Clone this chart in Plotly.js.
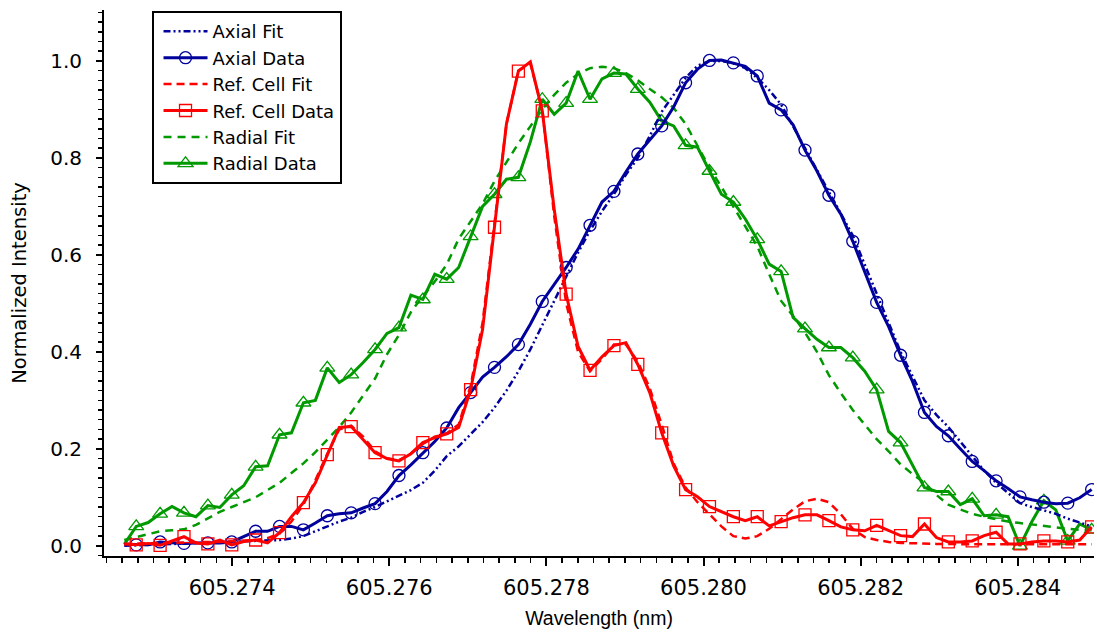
<!DOCTYPE html>
<html><head><meta charset="utf-8">
<script src="https://cdn.plot.ly/plotly-3.0.1.min.js"></script>
<style>html,body{margin:0;padding:0;background:#fff;}#chart{width:1097px;height:636px;}</style>
</head><body><div id="chart"></div>
<script>
const wavelength = [605.272628,605.272780,605.272932,605.273084,605.273236,605.273388,605.273540,605.273692,605.273844,605.273996,
605.274148,605.274300,605.274452,605.274604,605.274756,605.274908,605.275060,605.275212,605.275364,605.275516,
605.275668,605.275820,605.275972,605.276124,605.276276,605.276428,605.276580,605.276732,605.276884,605.277036,
605.277188,605.277340,605.277492,605.277644,605.277796,605.277948,605.278100,605.278252,605.278404,605.278556,
605.278708,605.278860,605.279012,605.279164,605.279316,605.279468,605.279620,605.279772,605.279924,605.280076,
605.280228,605.280380,605.280532,605.280684,605.280836,605.280988,605.281140,605.281292,605.281444,605.281596,
605.281748,605.281900,605.282052,605.282204,605.282356,605.282508,605.282660,605.282812,605.282964,605.283116,
605.283268,605.283420,605.283572,605.283724,605.283876,605.284028,605.284180,605.284332,605.284484,605.284636,
605.284788,605.284940];

const axialData = [0.003,0.002,0.002,0.008,0.006,0.005,0.006,0.006,0.006,0.008,
0.019,0.030,0.030,0.040,0.040,0.033,0.047,0.062,0.066,0.068,
0.078,0.087,0.112,0.145,0.167,0.192,0.215,0.243,0.285,0.316,
0.348,0.368,0.390,0.415,0.457,0.504,0.539,0.574,0.612,0.661,
0.709,0.731,0.771,0.808,0.837,0.866,0.905,0.955,0.983,1.001,
1.002,0.996,0.989,0.969,0.913,0.899,0.868,0.816,0.773,0.723,
0.684,0.628,0.564,0.502,0.452,0.393,0.339,0.275,0.246,0.227,
0.200,0.174,0.155,0.134,0.118,0.101,0.095,0.090,0.087,0.088,
0.099,0.116];

const axialFit = [0.000,0.001,0.002,0.002,0.003,0.004,0.005,0.006,0.007,0.008,
0.009,0.010,0.011,0.012,0.015,0.020,0.030,0.040,0.050,0.058,
0.070,0.080,0.092,0.103,0.115,0.130,0.155,0.185,0.205,0.230,
0.255,0.285,0.320,0.360,0.405,0.455,0.505,0.555,0.605,0.650,
0.690,0.725,0.765,0.800,0.845,0.895,0.930,0.965,0.990,1.000,
1.000,0.995,0.985,0.965,0.940,0.910,0.865,0.820,0.775,0.730,
0.685,0.640,0.580,0.520,0.460,0.400,0.350,0.300,0.270,0.245,
0.215,0.185,0.155,0.130,0.108,0.088,0.080,0.073,0.066,0.056,
0.048,0.040];

const refData = [0.004,0.002,0.005,0.001,0.010,0.019,0.006,0.004,0.012,0.002,
0.009,0.012,0.006,0.027,0.060,0.089,0.130,0.188,0.244,0.246,
0.219,0.192,0.180,0.175,0.190,0.213,0.223,0.231,0.244,0.322,
0.446,0.657,0.870,0.979,0.998,0.897,0.694,0.519,0.411,0.362,
0.390,0.413,0.419,0.374,0.316,0.233,0.165,0.116,0.101,0.081,
0.070,0.060,0.052,0.060,0.041,0.050,0.058,0.064,0.064,0.052,
0.039,0.033,0.031,0.042,0.031,0.021,0.019,0.045,0.017,0.008,
0.008,0.010,0.021,0.028,0.004,0.004,0.008,0.010,0.010,0.008,
0.012,0.039];

const refFit = [0.004,0.005,0.005,0.006,0.006,0.007,0.007,0.008,0.008,0.009,
0.010,0.012,0.016,0.025,0.050,0.085,0.135,0.190,0.240,0.248,
0.225,0.195,0.180,0.177,0.190,0.210,0.225,0.232,0.250,0.330,
0.460,0.660,0.870,0.980,0.995,0.900,0.680,0.500,0.400,0.360,
0.385,0.415,0.415,0.380,0.325,0.250,0.170,0.120,0.090,0.065,
0.040,0.020,0.015,0.020,0.035,0.055,0.075,0.092,0.097,0.090,
0.065,0.035,0.018,0.012,0.008,0.006,0.005,0.004,0.004,0.004,
0.003,0.003,0.003,0.003,0.003,0.003,0.003,0.003,0.003,0.003,
0.003,0.003];

const radialData = [0.003,0.040,0.048,0.066,0.081,0.068,0.060,0.083,0.079,0.105,
0.124,0.163,0.165,0.229,0.233,0.295,0.300,0.367,0.337,0.353,
0.378,0.405,0.438,0.450,0.517,0.508,0.560,0.550,0.574,0.638,
0.700,0.725,0.756,0.760,0.833,0.921,0.890,0.913,0.979,0.921,
0.963,0.975,0.973,0.942,0.915,0.876,0.866,0.826,0.822,0.773,
0.725,0.709,0.674,0.632,0.581,0.566,0.471,0.448,0.426,0.409,
0.409,0.388,0.360,0.322,0.236,0.213,0.167,0.120,0.112,0.112,
0.085,0.097,0.062,0.064,0.060,0.000,0.050,0.093,0.074,0.010,
0.045,0.033];

const radialFit = [0.012,0.018,0.025,0.030,0.032,0.034,0.043,0.056,0.070,0.080,
0.090,0.100,0.115,0.130,0.150,0.170,0.193,0.220,0.245,0.275,
0.310,0.345,0.395,0.435,0.482,0.515,0.545,0.580,0.633,0.670,
0.705,0.752,0.790,0.830,0.865,0.900,0.930,0.955,0.973,0.985,
0.988,0.985,0.975,0.960,0.942,0.925,0.903,0.870,0.825,0.780,
0.740,0.700,0.658,0.618,0.560,0.505,0.474,0.440,0.400,0.352,
0.315,0.280,0.250,0.220,0.195,0.168,0.148,0.130,0.105,0.085,
0.075,0.066,0.060,0.055,0.050,0.047,0.044,0.040,0.037,0.035,
0.033,0.032];

const legendNames = ['Axial Fit','Axial Data','Ref. Cell Fit','Ref. Cell Data','Radial Fit','Radial Data'];

const BLUE = '#00009c', RED = '#ff0000', GREEN = '#009900';
const markerIdx = wavelength.map((_, i) => i).filter(i => i % 2 === 1);
const pick = arr => markerIdx.map(i => arr[i]);

function dataSet(name, yv, color, symbol, size, rank) {
  return [
    {x: wavelength, y: yv, mode: 'lines', line: {color: color, width: 3}, showlegend: false, name: name},
    {x: pick(wavelength), y: pick(yv), mode: 'markers', showlegend: false, name: name,
     marker: {symbol: symbol, size: size, color: color, line: {width: 1.3, color: color}}},
    {x: [null], y: [null], mode: 'lines+markers', name: name, legendrank: rank,
     line: {color: color, width: 3},
     marker: {symbol: symbol, size: size, color: color, line: {width: 1.3, color: color}}}
  ];
}

const traces = [
  {x: wavelength, y: radialFit, mode: 'lines', name: legendNames[4], legendrank: 5,
   line: {color: GREEN, width: 2.5, dash: '8px,6px'}},
  ...dataSet(legendNames[5], radialData, GREEN, 'triangle-up-open', 13, 6),
  {x: wavelength, y: axialFit, mode: 'lines', name: legendNames[0], legendrank: 1,
   line: {color: BLUE, width: 2.5, dash: '7px,3px,2px,3px,2px,3px'}},
  ...dataSet(legendNames[1], axialData, BLUE, 'circle-open', 12, 2),
  {x: wavelength, y: refFit, mode: 'lines', name: legendNames[2], legendrank: 3,
   line: {color: RED, width: 2.5, dash: '8px,5px'}},
  ...dataSet(legendNames[3], refData, RED, 'square-open', 12, 4)
];

const XR = [605.27237, 605.28497];
const YR = [-0.021, 1.105];
const tickFontX = {family: 'DejaVu Sans, sans-serif', size: 21, color: '#000'};
const tickFontY = {family: 'DejaVu Sans, sans-serif', size: 20, color: '#000'};

const layout = {
  width: 1097, height: 636,
  margin: {l: 104, r: 3, t: 10, b: 80},
  paper_bgcolor: '#fff', plot_bgcolor: '#fff',
  showlegend: true,
  hovermode: false,
  font: {family: 'DejaVu Sans, sans-serif', color: '#000'},
  xaxis: {
    range: XR, tick0: 605.274, dtick: 0.002, tickformat: '.3f',
    ticks: 'outside', ticklen: 8, tickwidth: 2, tickcolor: '#000',
    showline: true, linewidth: 2, linecolor: '#000',
    showgrid: false, zeroline: false, tickfont: tickFontX, ticklabelstandoff: 4,
    minor: {tick0: 605.274, dtick: 0.0002, ticks: 'outside', ticklen: 5, tickwidth: 1.5, tickcolor: '#000', showgrid: false},
    title: {text: 'Wavelength (nm)', standoff: 12,
            font: {family: 'Liberation Sans, Arial, sans-serif', size: 19.5, color: '#000'}}
  },
  yaxis: {
    range: YR, tick0: 0, dtick: 0.2, tickformat: '.1f',
    ticks: 'outside', ticklen: 6, tickwidth: 2, tickcolor: '#000',
    showline: true, linewidth: 2, linecolor: '#000',
    showgrid: false, zeroline: false, tickfont: tickFontY, ticklabelstandoff: 10,
    minor: {tick0: 0, dtick: 0.02, ticks: 'outside', ticklen: 4, tickwidth: 1.5, tickcolor: '#000', showgrid: false},
    title: {text: 'Normalized Intensity', standoff: 18,
            font: {family: 'DejaVu Sans, sans-serif', size: 19.5, color: '#000'}}
  },
  xaxis2: {
    overlaying: 'x', anchor: 'y', side: 'bottom', range: XR, tick0: 605.274, dtick: 0.002,
    ticks: 'inside', ticklen: 8, tickwidth: 2, tickcolor: '#000', showticklabels: false,
    showline: false, showgrid: false, zeroline: false,
    minor: {tick0: 605.274, dtick: 0.0002, ticks: 'inside', ticklen: 3, tickwidth: 1.5, tickcolor: '#000', showgrid: false}
  },
  yaxis2: {
    overlaying: 'y', anchor: 'x', side: 'left', range: YR, tick0: 0, dtick: 0.2,
    ticks: 'inside', ticklen: 5, tickwidth: 2, tickcolor: '#000', showticklabels: false,
    showline: false, showgrid: false, zeroline: false,
    minor: {tick0: 0, dtick: 0.02, ticks: 'inside', ticklen: 4, tickwidth: 1.5, tickcolor: '#000', showgrid: false}
  },
  legend: {
    x: 0.048, y: 0.998, xanchor: 'left', yanchor: 'top',
    bgcolor: '#fff', bordercolor: '#000', borderwidth: 2,
    font: {family: 'DejaVu Sans, sans-serif', size: 18, color: '#000'},
    itemwidth: 44, indentation: 5, tracegroupgap: 0
  }
};

Plotly.newPlot('chart', traces, layout, {displayModeBar: false, staticPlot: true});
</script>
</body></html>
